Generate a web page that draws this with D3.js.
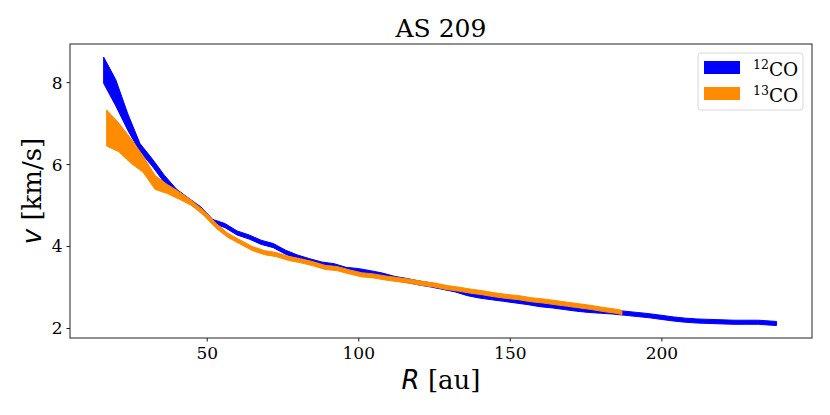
<!DOCTYPE html>
<html>
<head>
<meta charset="utf-8">
<script src="https://cdn.jsdelivr.net/npm/d3@7"></script>
<style>
  body { margin: 0; background: #fff; }
  text { font-family: "DejaVu Serif", serif; }
</style>
</head>
<body>
<svg id="chart" width="830" height="415"></svg>
<script>
// 12CO rotation curve: radius (au), velocity (km/s), half width of band
var r12 = [16, 20, 24, 28, 32, 36, 40, 44, 48, 52, 56, 60, 64, 68, 72, 76, 80, 84, 88, 92, 96,
           100, 104, 108, 112, 116, 120, 124, 128, 132, 136, 140, 144, 148, 152, 156, 160, 164, 168,
           172, 176, 180, 184, 188, 192, 196, 200, 204, 208, 212, 216, 220, 224, 228, 232, 236, 238];
var v12 = [8.29, 7.74, 7.02, 6.40, 6.04, 5.64, 5.32, 5.11, 4.90, 4.60, 4.50, 4.32, 4.22, 4.09, 4.01, 3.85, 3.73, 3.64, 3.56, 3.52, 3.43,
           3.40, 3.35, 3.29, 3.21, 3.16, 3.10, 3.05, 2.99, 2.93, 2.84, 2.78, 2.74, 2.70, 2.66, 2.62, 2.57, 2.54, 2.50,
           2.46, 2.43, 2.41, 2.39, 2.36, 2.33, 2.30, 2.26, 2.22, 2.19, 2.17, 2.16, 2.15, 2.14, 2.14, 2.14, 2.12, 2.11];
var dv12 = [0.32, 0.32, 0.20, 0.10, 0.09, 0.09, 0.07, 0.06, 0.06, 0.05, 0.05, 0.05, 0.05, 0.05, 0.05, 0.05, 0.05, 0.05, 0.05, 0.05, 0.05,
            0.05, 0.05, 0.05, 0.05, 0.05, 0.05, 0.05, 0.05, 0.05, 0.05, 0.05, 0.05, 0.05, 0.05, 0.05, 0.05, 0.05, 0.05,
            0.05, 0.05, 0.05, 0.05, 0.05, 0.05, 0.05, 0.05, 0.05, 0.05, 0.05, 0.05, 0.05, 0.05, 0.05, 0.05, 0.05, 0.05];

// 13CO rotation curve
var r13 = [17, 21, 25, 29, 33, 37, 41, 45, 49, 53, 57, 61, 65, 69, 73, 77, 81, 85, 89, 93, 97,
           101, 105, 109, 113, 117, 121, 125, 129, 133, 137, 141, 145, 149, 153, 157, 161, 165, 169,
           173, 177, 181, 185, 187];
var v13 = [6.88, 6.65, 6.32, 6.00, 5.55, 5.39, 5.23, 5.05, 4.81, 4.50, 4.26, 4.10, 3.94, 3.84, 3.79, 3.70, 3.64, 3.57, 3.48, 3.45, 3.37,
           3.30, 3.27, 3.22, 3.18, 3.14, 3.09, 3.05, 2.99, 2.95, 2.90, 2.86, 2.81, 2.77, 2.74, 2.69, 2.66, 2.62, 2.58,
           2.54, 2.50, 2.45, 2.41, 2.38];
var dv13 = [0.44, 0.35, 0.30, 0.20, 0.17, 0.11, 0.09, 0.06, 0.06, 0.06, 0.05, 0.05, 0.05, 0.05, 0.05, 0.05, 0.05, 0.05, 0.05, 0.05, 0.05,
            0.05, 0.05, 0.05, 0.05, 0.05, 0.05, 0.05, 0.05, 0.05, 0.05, 0.05, 0.05, 0.05, 0.05, 0.05, 0.05, 0.05, 0.05,
            0.05, 0.05, 0.05, 0.05, 0.05];

var xTicks = [50, 100, 150, 200];
var yTicks = [2, 4, 6, 8];
var seriesNames = ["12", "13"];
var seriesColors = ["#0000ff", "#ff8c00"];
var title = "AS 209";

var svg = d3.select("#chart");
var margin = {left: 70, right: 18, top: 44, bottom: 77};
var width = 830 - margin.left - margin.right;
var height = 415 - margin.top - margin.bottom;

var x = d3.scaleLinear().domain([4.9, 249.7]).range([0, width]);
var y = d3.scaleLinear().domain([1.756, 8.93]).range([height, 0]);

var g = svg.append("g").attr("transform", "translate(" + margin.left + "," + margin.top + ")");

// bands
function band(r, v, dv) {
  return r.map(function(d, i) { return {r: d, lo: v[i] - dv[i], hi: v[i] + dv[i]}; });
}
var area = d3.area()
  .x(function(d) { return x(d.r); })
  .y0(function(d) { return y(d.lo); })
  .y1(function(d) { return y(d.hi); });

[band(r12, v12, dv12), band(r13, v13, dv13)].forEach(function(data, i) {
  g.append("path")
    .datum(data)
    .attr("d", area)
    .attr("fill", seriesColors[i])
    .attr("stroke", seriesColors[i])
    .attr("stroke-width", 1)
    .attr("stroke-linejoin", "round");
});

// axes
var xaxis = d3.axisBottom(x).tickValues(xTicks).tickSize(3.5).tickPadding(5);
var yaxis = d3.axisLeft(y).tickValues(yTicks).tickSize(3.5).tickPadding(4);

var gx = g.append("g").attr("transform", "translate(0," + height + ")").call(xaxis);
var gy = g.append("g").call(yaxis);
[gx, gy].forEach(function(ax) {
  ax.select(".domain").remove();
  ax.selectAll("text").attr("font-family", "DejaVu Serif").attr("font-size", 17).attr("fill", "#000");
  ax.selectAll("line").attr("stroke", "#000").attr("stroke-width", 0.9);
});
gy.selectAll("text").attr("dy", "0.35em");

// frame
g.append("rect")
  .attr("x", 0).attr("y", 0)
  .attr("width", width).attr("height", height)
  .attr("fill", "none")
  .attr("stroke", "#222")
  .attr("stroke-width", 1);

// title
svg.append("text")
  .attr("x", margin.left + width / 2).attr("y", 37)
  .attr("text-anchor", "middle")
  .attr("font-size", 25)
  .text(title);

// x label
var xl = svg.append("text")
  .attr("x", margin.left + width / 2).attr("y", 389)
  .attr("text-anchor", "middle")
  .attr("font-size", 26);
xl.append("tspan").attr("font-family", "DejaVu Sans").attr("font-style", "italic").text("R");
xl.append("tspan").text(" [au]");

// y label
var yl = svg.append("text")
  .attr("transform", "translate(41," + (margin.top + height / 2) + ") rotate(-90)")
  .attr("text-anchor", "middle")
  .attr("font-size", 26);
yl.append("tspan").attr("font-family", "DejaVu Sans").attr("font-style", "italic").text("v");
yl.append("tspan").text(" [km/s]");

// legend
var lg = svg.append("g").attr("transform", "translate(698,53)");
lg.append("rect")
  .attr("width", 105).attr("height", 57)
  .attr("rx", 3)
  .attr("fill", "#fff").attr("fill-opacity", 0.8)
  .attr("stroke", "#d8d8d8");
seriesNames.forEach(function(n, i) {
  var row = lg.append("g").attr("transform", "translate(6," + (8 + i * 26) + ")");
  row.append("rect").attr("width", 36).attr("height", 13).attr("fill", seriesColors[i]);
  var t = row.append("text").attr("x", 49).attr("y", 15).attr("font-size", 18.5);
  t.append("tspan").attr("font-size", 12.5).attr("dy", -7).text(n);
  t.append("tspan").attr("dy", 7).text("CO");
});
</script>
</body>
</html>
